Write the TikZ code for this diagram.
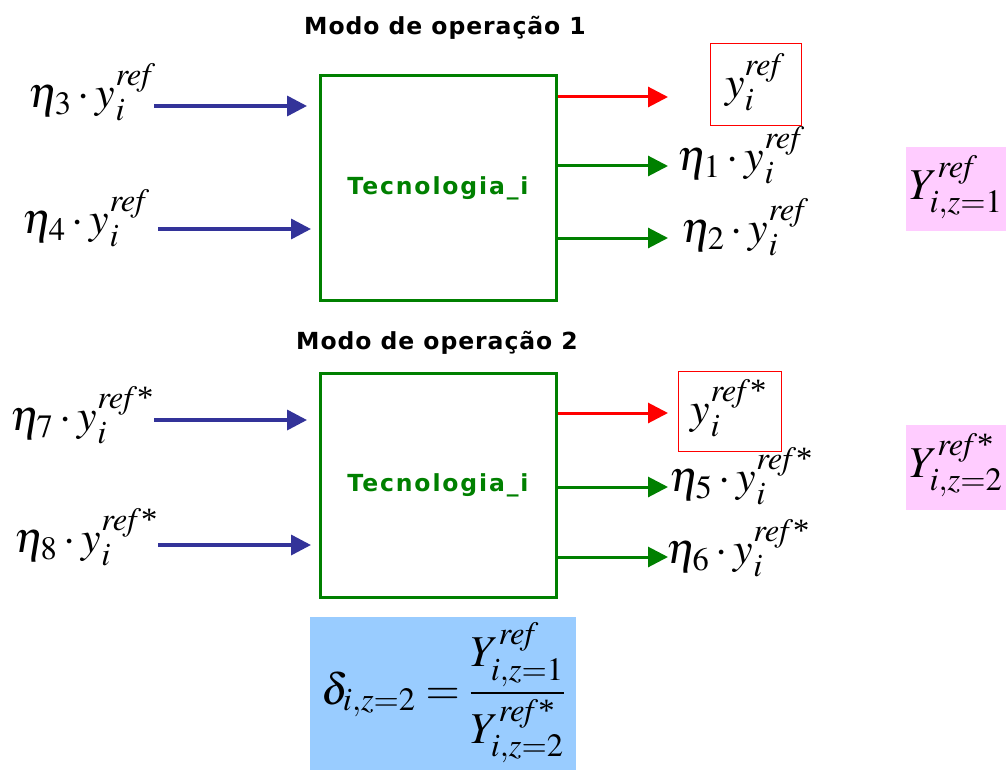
\documentclass[tikz,border=0pt]{standalone}
\usepackage{amsmath}
\usepackage{mathptmx}
\usepackage[no-math]{fontspec}
\setmainfont{Liberation Serif}
\newfontfamily\verd[LetterSpace=4]{DejaVu Sans}
\newfontfamily\verdw[LetterSpace=8]{DejaVu Sans}
\usetikzlibrary{arrows.meta}
\definecolor{arrblue}{HTML}{333399}
\definecolor{boxgreen}{HTML}{008000}
\definecolor{pinkbg}{HTML}{FFCCFF}
\definecolor{bluebg}{HTML}{99CCFF}
\newcommand{\rf}{\mathit{ref}}
\newcommand{\rfs}{\mathit{ref}\text{*}}
\tikzset{
  techbox/.style={draw=boxgreen, line width=3pt, minimum width=236pt, minimum height=224pt, inner sep=0pt,
    font=\verdw\bfseries\fontsize{23.5}{26}\selectfont, text=boxgreen},
  title/.style={font=\verd\bfseries\fontsize{23.5}{26}\selectfont},
  mlabel/.style={font=\fontsize{44}{50}\selectfont, inner sep=0pt},
  inarrow/.style={draw=arrblue, line width=3.5pt, -{Triangle[length=20pt,width=20pt]}},
  redarrow/.style={draw=red, line width=3pt, -{Triangle[length=20pt,width=20pt]}},
  greenarrow/.style={draw=boxgreen, line width=3pt, -{Triangle[length=20pt,width=20pt]}},
  redbox/.style={draw=red, line width=1pt, inner sep=0pt},
  pinkbox/.style={fill=pinkbg, inner sep=0pt},
}
\begin{document}
\begin{tikzpicture}[x=1pt,y=-1pt]
\useasboundingbox (0,0) rectangle (1006,770);
% Mode 1
\node[title] (t1) at (445,28) {Modo de operação 1};
\node[techbox] (b1) at (438,188) {Tecnologia\_i};
\node[mlabel] (in3) at (92,92) {$\eta_3\cdot y_i^{\rf}$};
\node[mlabel] (in4) at (86,218) {$\eta_4\cdot y_i^{\rf}$};
\coordinate (s3) at (154,106); \coordinate (e3) at (307,106);
\coordinate (s4) at (158,229); \coordinate (e4) at (311,229);
\draw[inarrow] (s3) -- (e3);
\draw[inarrow] (s4) -- (e4);
\node[redbox, minimum width=91pt, minimum height=82pt] (r1) at (755.5,85) {};
\node[mlabel] (y1) at (755,82) {$y_i^{\rf}$};
\coordinate (o1) at (668,97); \coordinate (o2) at (668,166); \coordinate (o3) at (668,238);
\draw[redarrow] (b1.east |- o1) -- (o1);
\draw[greenarrow] (b1.east |- o2) -- (o2);
\draw[greenarrow] (b1.east |- o3) -- (o3);
\node[mlabel] (out1) at (741,155) {$\eta_1\cdot y_i^{\rf}$};
\node[mlabel] (out2) at (745,227) {$\eta_2\cdot y_i^{\rf}$};
\node[pinkbox, minimum width=100pt, minimum height=84pt] (p1) at (956,189) {};
\node[mlabel] (Y1) at (956,187) {$Y_{i,z=1}^{\rf}$};
% Mode 2
\node[title] (t2) at (437,343) {Modo de operação 2};
\node[techbox] (b2) at (438,485) {Tecnologia\_i};
\node[mlabel] (in7) at (82,415) {$\eta_7\cdot y_i^{\rfs}$};
\node[mlabel] (in8) at (86,537) {$\eta_8\cdot y_i^{\rfs}$};
\coordinate (s7) at (154,420); \coordinate (e7) at (307,420);
\coordinate (s8) at (158,545); \coordinate (e8) at (311,545);
\draw[inarrow] (s7) -- (e7);
\draw[inarrow] (s8) -- (e8);
\node[redbox, minimum width=103pt, minimum height=80pt] (r2) at (729.5,411) {};
\node[mlabel] (y2) at (729,408) {$y_i^{\rfs}$};
\coordinate (o4) at (668,413); \coordinate (o5) at (668,487); \coordinate (o6) at (668,557);
\draw[redarrow] (b2.east |- o4) -- (o4);
\draw[greenarrow] (b2.east |- o5) -- (o5);
\draw[greenarrow] (b2.east |- o6) -- (o6);
\node[mlabel] (out5) at (741,476) {$\eta_5\cdot y_i^{\rfs}$};
\node[mlabel] (out6) at (738,548) {$\eta_6\cdot y_i^{\rfs}$};
\node[pinkbox, minimum width=100pt, minimum height=85pt] (p2) at (956,467.5) {};
\node[mlabel] (Y2) at (956,465) {$Y_{i,z=2}^{\rfs}$};
% delta
\node[fill=bluebg, minimum width=266pt, minimum height=153pt, inner sep=0pt] (bb) at (443,693.5) {};
\node[mlabel] (delta) at (443,693) {$\displaystyle\delta_{i,z=2}=\frac{Y_{i,z=1}^{\rf}}{Y_{i,z=2}^{\rfs}}$};
\end{tikzpicture}
\end{document}
